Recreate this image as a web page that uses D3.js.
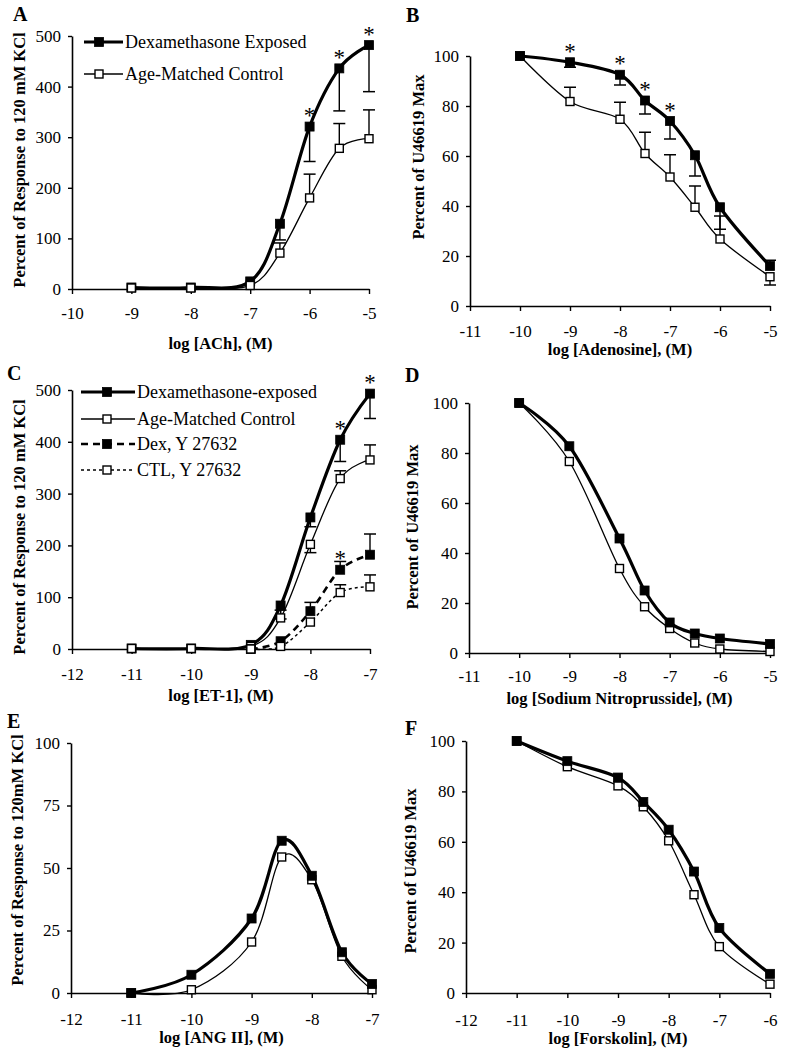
<!DOCTYPE html>
<html>
<head>
<meta charset="utf-8">
<script src="https://cdn.jsdelivr.net/npm/d3@7"></script>
<style>
  body { margin: 0; background: #fff; }
  svg text { font-family: "Liberation Serif", "Times New Roman", serif; fill: #000; }
</style>
</head>
<body>
<svg id="fig" width="786" height="1050"></svg>
<script>
// ---- data ----
// A: ACh
const achX = [-9, -8, -7, -6.5, -6, -5.5, -5];
const achDex = [3, 3, 15, 129, 321, 436, 482];
const achDexErr = [null, null, null, 97, 252, 352, 390];
const achCtl = [2, 2, 7, 71, 180, 278, 297];
const achCtlErr = [null, null, null, 91, 227, 327, 354];
const achSig = [-6, -5.5, -5];

// B: Adenosine
const adeX = [-10, -9, -8, -7.5, -7, -6.5, -6, -5];
const adeDex = [100, 97.5, 92.5, 82.2, 74, 60.3, 39.5, 16];
const adeDexErr = [null, 95.5, 88.4, 76.8, 66.8, 52, 30.7, 18.3];
const adeCtl = [100, 81.8, 74.7, 61, 51.6, 39.5, 26.8, 11.7];
const adeCtlErr = [null, 87.5, 81.5, 69.5, 60.5, 48, 36, 8.4];
const adeSig = [-9, -8, -7.5, -7];

// C: ET-1
const et1X = [-11, -10, -9, -8.5, -8, -7.5, -7];
const et1Dex = [1, 1, 8, 84, 254, 404, 493];
const et1DexErr = [null, null, null, 58, 236, 362, 445];
const et1Ctl = [1, 1, 5, 60, 202, 329, 365];
const et1CtlErr = [null, null, null, 75, 186, 344, 394];
const et1YX = [-9, -8.5, -8, -7.5, -7];
const et1DexY = [0, 15, 73, 153, 182];
const et1DexYErr = [null, null, 90, 169, 222];
const et1CtlY = [0, 5, 52, 109, 120];
const et1CtlYErr = [null, null, null, 124, 143];
const et1Sig = [-7.5, -7];
const et1YSig = [-7.5];

// D: Sodium nitroprusside
const snpX = [-10, -9, -8, -7.5, -7, -6.5, -6, -5];
const snpDex = [100, 82.7, 45.8, 25, 12.2, 7.8, 5.8, 3.6];
const snpCtl = [100, 76.6, 33.8, 18.5, 9.8, 4, 1.6, 0.6];

// E: ANG II
const angX = [-11, -10, -9, -8.5, -8, -7.5, -7];
const angDex = [0, 7.3, 29.8, 60.9, 46.9, 16.3, 3.6];
const angCtl = [0, 1.3, 20.4, 54.4, 45.3, 14.7, 1.3];

// F: Forskolin
const forX = [-11, -10, -9, -8.5, -8, -7.5, -7, -6];
const forDex = [100, 92, 85.5, 75.8, 64.8, 48.2, 25.8, 7.6];
const forCtl = [100, 89.8, 82.2, 73.9, 60.4, 39, 18.4, 3.5];

// ---- styles ----
const styles = {
  dex:  { width: 3.2, dash: null,  filled: true,  size: 9 },
  ctl:  { width: 1.3, dash: null,  filled: false, size: 8 },
  dexY: { width: 2.6, dash: "7,5", filled: true,  size: 9 },
  ctlY: { width: 1.5, dash: "3,3", filled: false, size: 8 }
};

const zip = (xs, ys) => xs.map((v, i) => [v, ys[i]]);

const panels = [
  { letter: "A", lx: 13, ly: 21, left: 72, right: 369, top: 36, bottom: 289, xPad: 13,
    xDomain: [-10, -5], yDomain: [0, 500], yTicks: [0, 100, 200, 300, 400, 500],
    yTitle: "Percent of Response to 120 mM KCl", ytx: 19, yty: 160,
    xTitle: "log [ACh], (M)", xty: 343,
    series: [
      { x: achX, y: achDex, err: achDexErr, s: "dex", sig: achSig, name: "Dexamethasone Exposed" },
      { x: achX, y: achCtl, err: achCtlErr, s: "ctl", name: "Age-Matched Control" }
    ],
    legend: { x1: 84, x2: 123, mx: 99, tx: 125, ys: [42, 74] } },
  { letter: "B", lx: 406, ly: 22, left: 470, right: 770, top: 56, bottom: 306, xPad: 14,
    xDomain: [-11, -5], yDomain: [0, 100], yTicks: [0, 20, 40, 60, 80, 100],
    yTitle: "Percent of U46619 Max", ytx: 418, yty: 157,
    xTitle: "log [Adenosine], (M)", xty: 349,
    series: [
      { x: adeX, y: adeCtl, err: adeCtlErr, s: "ctl" },
      { x: adeX, y: adeDex, err: adeDexErr, s: "dex", sig: adeSig }
    ] },
  { letter: "C", lx: 7, ly: 380, left: 72, right: 370, top: 390, bottom: 649, xPad: 14,
    xDomain: [-12, -7], yDomain: [0, 500], yTicks: [0, 100, 200, 300, 400, 500],
    yTitle: "Percent of Response to 120 mM KCl", ytx: 19, yty: 527,
    xTitle: "log [ET-1], (M)", xty: 695,
    series: [
      { x: et1X, y: et1Dex, err: et1DexErr, s: "dex", sig: et1Sig, name: "Dexamethasone-exposed" },
      { x: et1X, y: et1Ctl, err: et1CtlErr, s: "ctl", name: "Age-Matched Control" },
      { x: et1YX, y: et1DexY, err: et1DexYErr, s: "dexY", sig: et1YSig, name: "Dex, Y 27632" },
      { x: et1YX, y: et1CtlY, err: et1CtlYErr, s: "ctlY", name: "CTL, Y 27632" }
    ],
    legend: { x1: 81, x2: 135, mx: 107, tx: 137, ys: [392, 419, 444, 470] } },
  { letter: "D", lx: 405, ly: 382, left: 469, right: 770, top: 403, bottom: 653, xPad: 12,
    xDomain: [-11, -5], yDomain: [0, 100], yTicks: [0, 20, 40, 60, 80, 100],
    yTitle: "Percent of U46619 Max", ytx: 412, yty: 527,
    xTitle: "log [Sodium Nitroprusside], (M)", xty: 698,
    series: [
      { x: snpX, y: snpCtl, s: "ctl" },
      { x: snpX, y: snpDex, s: "dex" }
    ] },
  { letter: "E", lx: 7, ly: 728, left: 71, right: 372, top: 743, bottom: 993, xPad: 15,
    xDomain: [-12, -7], yDomain: [0, 100], yTicks: [0, 25, 50, 75, 100],
    yTitle: "Percent of Response to 120mM KCl", ytx: 17, yty: 860,
    xTitle: "log [ANG II], (M)", xty: 1037,
    series: [
      { x: angX, y: angCtl, s: "ctl" },
      { x: angX, y: angDex, s: "dex" }
    ] },
  { letter: "F", lx: 405, ly: 735, left: 466, right: 770, top: 741, bottom: 993, xPad: 16,
    xDomain: [-12, -6], yDomain: [0, 100], yTicks: [0, 20, 40, 60, 80, 100],
    yTitle: "Percent of U46619 Max", ytx: 410, yty: 871,
    xTitle: "log [Forskolin], (M)", xty: 1038,
    series: [
      { x: forX, y: forCtl, s: "ctl" },
      { x: forX, y: forDex, s: "dex" }
    ] }
];

const svg = d3.select("#fig");

function marker(g, cx, cy, st) {
  const h = st.size / 2;
  g.append("rect")
    .attr("x", cx - h).attr("y", cy - h)
    .attr("width", st.size).attr("height", st.size)
    .attr("fill", st.filled ? "#000" : "#fff")
    .attr("stroke", "#000").attr("stroke-width", st.filled ? 0.8 : 1.4);
}

panels.forEach(p => {
  const x = d3.scaleLinear().domain(p.xDomain).range([p.left, p.right]);
  const y = d3.scaleLinear().domain(p.yDomain).range([p.bottom, p.top]);
  const g = svg.append("g");

  // axes
  const ya = g.append("g")
    .attr("transform", "translate(" + p.left + ",0)")
    .call(d3.axisLeft(y).tickValues(p.yTicks).tickSize(4).tickSizeOuter(0).tickPadding(7)
      .tickFormat(d => String(d)));
  const xa = g.append("g")
    .attr("transform", "translate(0," + p.bottom + ")")
    .call(d3.axisBottom(x).tickValues(d3.range(p.xDomain[0], p.xDomain[1] + 1))
      .tickSize(5).tickSizeOuter(0).tickPadding(p.xPad).tickFormat(d => String(d)));
  [ya, xa].forEach(a => {
    a.select(".domain").attr("stroke", "#000").attr("stroke-width", 1.6);
    a.selectAll(".tick line").attr("stroke", "#000").attr("stroke-width", 1.4);
    a.selectAll(".tick text").attr("font-size", 17).attr("font-family", "Liberation Serif");
  });

  // titles
  g.append("text").attr("x", p.lx).attr("y", p.ly)
    .attr("font-size", 20).attr("font-weight", "bold").text(p.letter);
  g.append("text")
    .attr("transform", "translate(" + p.ytx + "," + p.yty + ") rotate(-90)")
    .attr("text-anchor", "middle").attr("dy", "0.35em")
    .attr("font-size", 16.5).attr("font-weight", "bold").text(p.yTitle);
  g.append("text")
    .attr("x", (p.left + p.right) / 2).attr("y", p.xty).attr("dy", "0.35em")
    .attr("text-anchor", "middle")
    .attr("font-size", 16.5).attr("font-weight", "bold").text(p.xTitle);

  const line = d3.line()
    .x(d => x(d[0])).y(d => y(d[1]))
    .curve(d3.curveCatmullRom.alpha(0));

  // lines
  p.series.forEach(sr => {
    const st = styles[sr.s];
    g.append("path")
      .attr("d", line(zip(sr.x, sr.y)))
      .attr("fill", "none").attr("stroke", "#000")
      .attr("stroke-width", st.width)
      .attr("stroke-dasharray", st.dash)
      .attr("stroke-linejoin", "round");
  });

  // error bars
  p.series.forEach(sr => {
    if (!sr.err) return;
    sr.err.forEach((e, i) => {
      if (e == null) return;
      const cx = x(sr.x[i]);
      g.append("line").attr("x1", cx).attr("x2", cx)
        .attr("y1", y(sr.y[i])).attr("y2", y(e))
        .attr("stroke", "#000").attr("stroke-width", 1.4);
      g.append("line").attr("x1", cx - 6).attr("x2", cx + 6)
        .attr("y1", y(e)).attr("y2", y(e))
        .attr("stroke", "#000").attr("stroke-width", 1.5);
    });
  });

  // markers + significance stars
  p.series.forEach(sr => {
    const st = styles[sr.s];
    sr.x.forEach((xv, i) => marker(g, x(xv), y(sr.y[i]), st));
    (sr.sig || []).forEach(xv => {
      const i = sr.x.indexOf(xv);
      g.append("text")
        .attr("x", x(xv)).attr("y", y(sr.y[i]) - 16)
        .attr("dy", "0.55em").attr("text-anchor", "middle")
        .attr("font-size", 23).text("*");
    });
  });

  // legend
  if (p.legend) {
    const L = p.legend;
    p.series.forEach((sr, i) => {
      const st = styles[sr.s];
      const ly = L.ys[i];
      g.append("line").attr("x1", L.x1).attr("x2", L.x2).attr("y1", ly).attr("y2", ly)
        .attr("stroke", "#000").attr("stroke-width", st.width)
        .attr("stroke-dasharray", st.dash);
      marker(g, L.mx, ly, st);
      g.append("text").attr("x", L.tx).attr("y", ly).attr("dy", "0.35em")
        .attr("font-size", 18).text(sr.name);
    });
  }
});
</script>
</body>
</html>
